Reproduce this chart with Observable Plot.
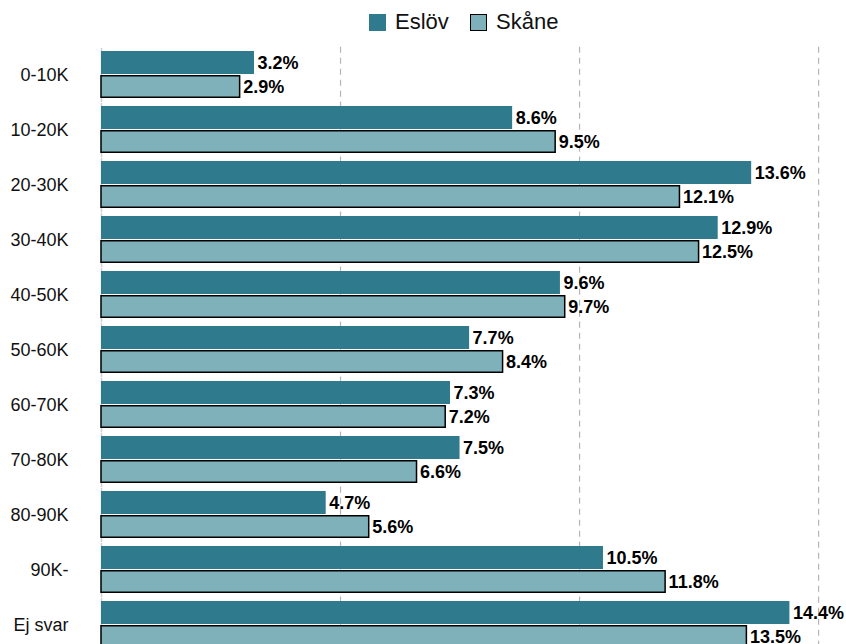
<!DOCTYPE html>
<html>
<head>
<meta charset="utf-8">
<script src="https://cdn.jsdelivr.net/npm/d3@7"></script>
<script src="https://cdn.jsdelivr.net/npm/@observablehq/plot@0.6"></script>
<style>
  html, body { margin: 0; padding: 0; background: #fff; font-family: Arial, "Liberation Sans", sans-serif; }
  #legend { position: relative; height: 40px; width: 846px; }
  .item { position: absolute; top: 2px; height: 40px; display: flex; align-items: center; font-size: 22px; color: #111; }
  .sw { width: 17px; height: 17px; margin-right: 9px; box-sizing: border-box; }
  #chart svg { display: block; }
</style>
</head>
<body>
<div id="legend"></div>
<div id="chart"></div>
<script>
const categories = ["0-10K", "10-20K", "20-30K", "30-40K", "40-50K", "50-60K", "60-70K", "70-80K", "80-90K", "90K-", "Ej svar"];
const seriesNames = ["Eslöv", "Skåne"];
const eslovValues = [3.2, 8.6, 13.6, 12.9, 9.6, 7.7, 7.3, 7.5, 4.7, 10.5, 14.4];
const skaneValues = [2.9, 9.5, 12.1, 12.5, 9.7, 8.4, 7.2, 6.6, 5.6, 11.8, 13.5];
const gridTicks = [5, 10, 15];

const darkColor = "#2f7a8c";
const lightColor = "#7fb1ba";

const data = categories.flatMap((c, i) => [
  {category: c, series: seriesNames[0], value: eslovValues[i]},
  {category: c, series: seriesNames[1], value: skaneValues[i]}
]);

// legend
const legend = document.getElementById("legend");
const items = [
  {name: seriesNames[0], color: darkColor, border: "none", left: 369},
  {name: seriesNames[1], color: lightColor, border: "1.5px solid #000", left: 470}
];
for (const it of items) {
  const d = document.createElement("div");
  d.className = "item";
  d.style.left = it.left + "px";
  const sw = document.createElement("span");
  sw.className = "sw";
  sw.style.background = it.color;
  sw.style.border = it.border;
  const t = document.createElement("span");
  t.textContent = it.name;
  d.appendChild(sw); d.appendChild(t);
  legend.appendChild(d);
}

const chart = Plot.plot({
  width: 846,
  height: 639,
  marginLeft: 101,
  marginRight: 4,
  marginTop: 9,
  marginBottom: 30,
  style: {fontFamily: "Arial, 'Liberation Sans', sans-serif", fontSize: "18px", color: "#111", overflow: "visible"},
  x: {domain: [0, 15.5], axis: null},
  y: {domain: seriesNames, paddingInner: 0.06, paddingOuter: 0, axis: null},
  fy: {domain: categories, paddingInner: 0.15, paddingOuter: 0, axis: "left", tickSize: 0, tickPadding: 33, label: null},
  marks: [
    Plot.ruleX(gridTicks, {stroke: "#b5b5b5", strokeWidth: 1.2, strokeDasharray: "6,5", insetTop: -4.2, insetBottom: -4.2}),
    Plot.ruleX([0], {stroke: "#cfcfcf", strokeWidth: 1.5, insetTop: -3, insetBottom: -4.2}),
    Plot.barX(data.filter(d => d.series === seriesNames[0]), {x: "value", y: "series", fy: "category", fill: darkColor}),
    Plot.barX(data.filter(d => d.series === seriesNames[1]), {x: "value", y: "series", fy: "category", fill: lightColor, stroke: "#000", strokeWidth: 1.5, insetTop: 0.75, insetBottom: 0.75}),
    Plot.text(data, {x: "value", y: "series", fy: "category", text: d => d.value.toFixed(1) + "%", textAnchor: "start", dx: 3, fontWeight: "bold", fontSize: 18, fill: "#000"})
  ]
});
document.getElementById("chart").appendChild(chart);
</script>
</body>
</html>
